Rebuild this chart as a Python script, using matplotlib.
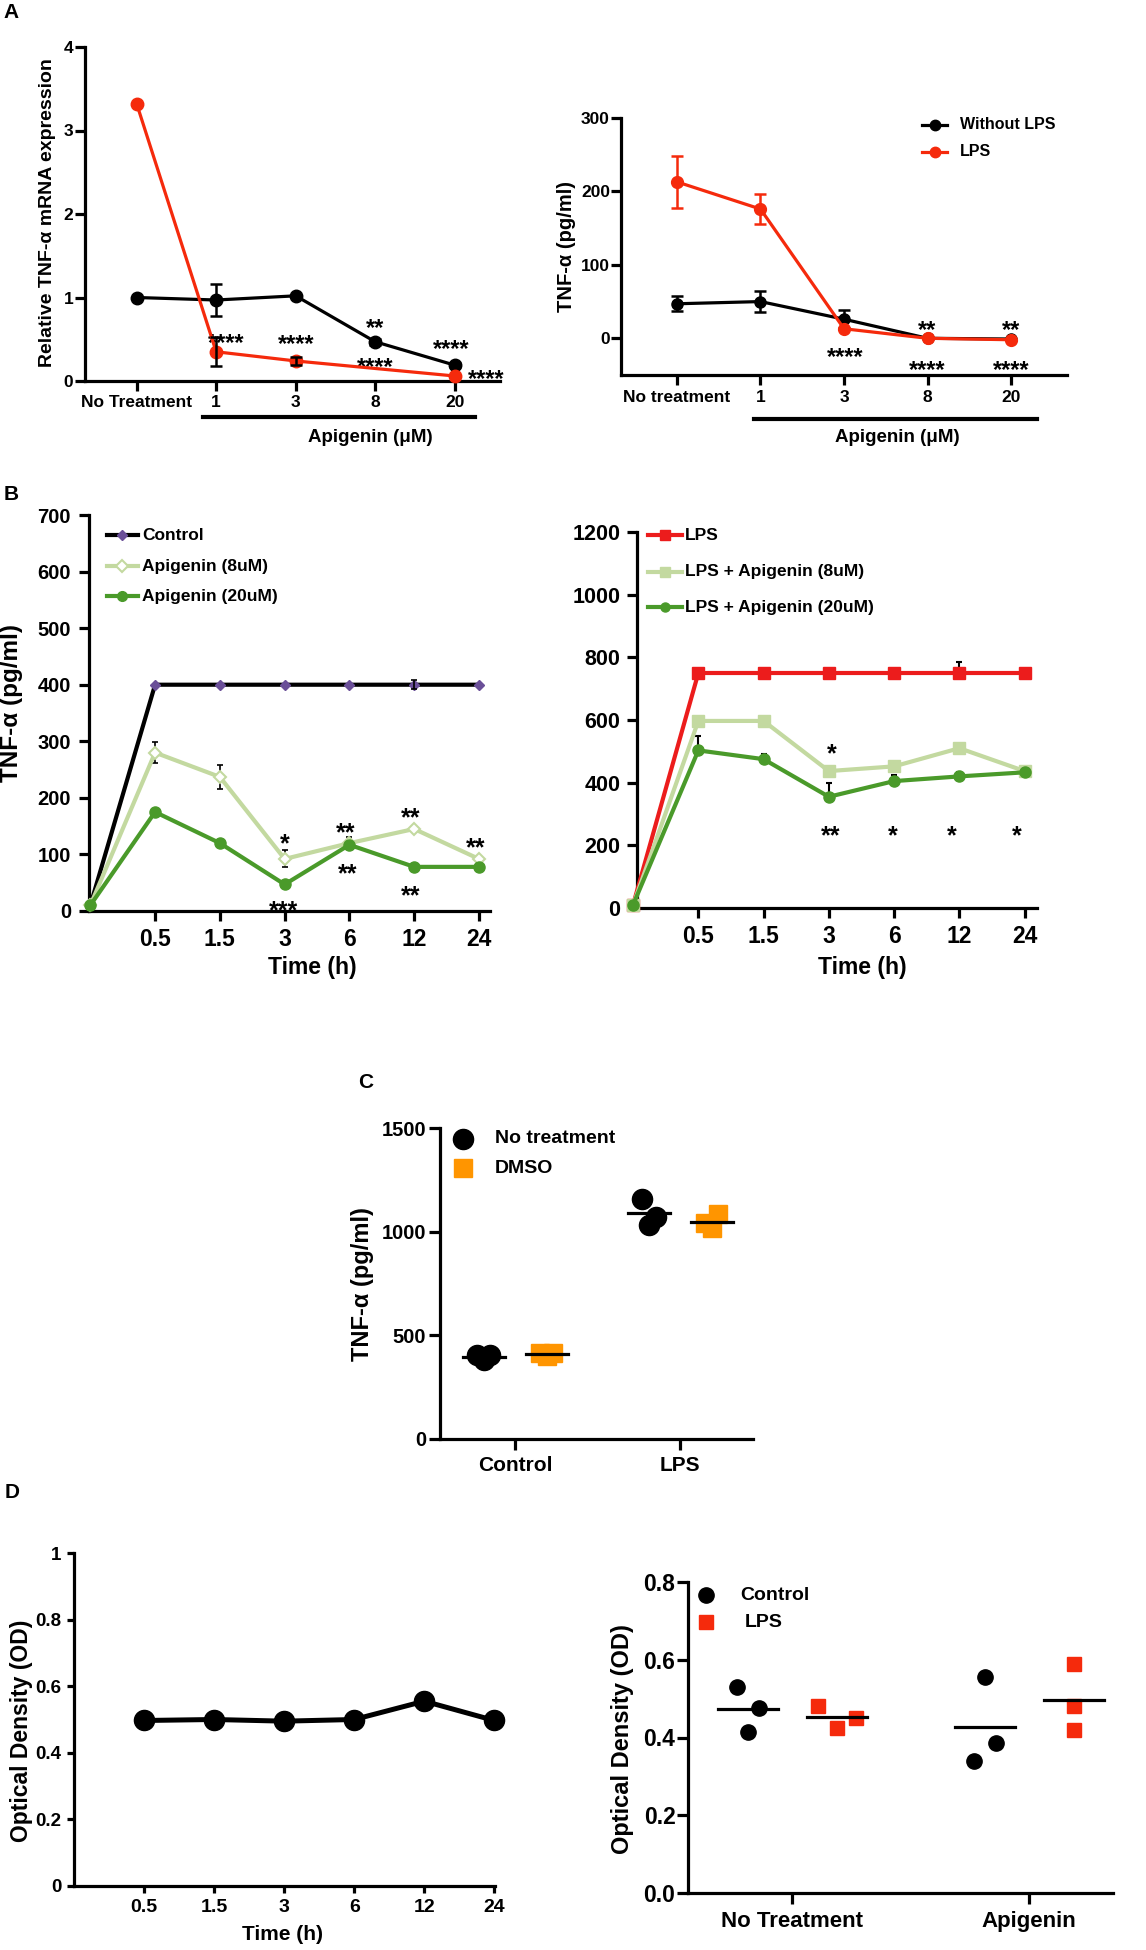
import matplotlib

matplotlib.use("Agg")
import matplotlib.pyplot as plt
import numpy as np
from matplotlib import font_manager

W, H = 1146, 1950

# ---------------- data ----------------
# Panel A: apigenin dose response
a_doses = ["No Treatment", "1", "3", "8", "20"]
a_doses_right = ["No treatment", "1", "3", "8", "20"]
a_mrna_nolps = [1.0, 0.97, 1.02, 0.47, 0.19]
a_mrna_nolps_err = [0.0, 0.195, 0.0, 0.035, 0.02]
a_mrna_lps = [3.32, 0.35, 0.24, 0.15, 0.06]
a_mrna_lps_err = [0.0, 0.175, 0.05, 0.0, 0.0]
a_mrna_stars = [("****", 1.13, 0.53), ("****", 2.01, 0.52), ("**", 3.0, 0.72),
                ("****", 3.0, 0.25), ("****", 3.95, 0.46), ("****", 4.39, 0.10)]
a_prot_nolps = [47, 50, 26, 0, -1]
a_prot_nolps_err = [10, 14, 12, 0, 0]
a_prot_lps = [213, 176, 13, 0, -2]
a_prot_lps_err = [35, 21, 0, 0, 0]
a_prot_stars = [("****", 2.01, -16), ("**", 3.0, 20), ("****", 3.0, -34),
                ("**", 4.0, 20), ("****", 4.0, -34)]

# Panel B: time course (first point is time 0)
b_times = ["0.5", "1.5", "3", "6", "12", "24"]
b_ctrl = [10, 400, 400, 400, 400, 400, 400]
b_ctrl_err = [0, 0, 0, 0, 0, 8, 0]
b_api8 = [10, 280, 237, 92, 120, 145, 92]
b_api8_err = [0, 18, 21, 15, 10, 0, 0]
b_api20 = [10, 175, 120, 47, 117, 78, 78]
b_left_stars = [("*", 3.0, 131), ("***", 2.98, 12), ("**", 3.94, 150),
                ("**", 3.97, 78), ("**", 4.94, 177), ("**", 4.94, 39),
                ("**", 5.95, 124)]
b_lps = [10, 750, 750, 750, 750, 750, 750]
b_lps_err = [0, 0, 0, 0, 0, 35, 0]
b_lps_api8 = [10, 597, 597, 437, 452, 510, 437]
b_lps_api20 = [10, 503, 475, 355, 405, 420, 433]
b_lps_api20_err = [0, 47, 15, 43, 18, 15, 0]
b_right_stars = [("*", 3.05, 513), ("**", 3.02, 252), ("*", 3.98, 252),
                 ("*", 4.89, 252), ("*", 5.88, 252)]

# Panel C: vehicle control
c_groups = ["Control", "LPS"]
c_notreat = [[405, 405, 380], [1157, 1073, 1033]]
c_dmso = [[413, 413, 400], [1086, 1041, 1017]]

# Panel D: viability
d_times = ["0.5", "1.5", "3", "6", "12", "24"]
d_od = [0.497, 0.50, 0.495, 0.50, 0.555, 0.497]
d_groups = ["No Treatment", "Apigenin"]
d_ctrl = [[0.53, 0.475, 0.415], [0.555, 0.385, 0.34]]
d_lps = [[0.48, 0.425, 0.45], [0.59, 0.48, 0.42]]

RED = "#f52a0c"
BRED = "#ec1c1c"
LIGHT = "#c3d9a0"
GREEN = "#4a9a2a"
PURPLE = "#6a4f98"
ORANGE = "#ff9500"

plt.rcParams["font.family"] = ["Liberation Sans", "DejaVu Sans"]
plt.rcParams["font.weight"] = "bold"
plt.rcParams["axes.labelweight"] = "bold"

HAS_NARROW = any(f.name == "Liberation Sans Narrow"
                 for f in font_manager.fontManager.ttflist)

fig = plt.figure(figsize=(W / 100, H / 100), dpi=100)


def add_axes(x0, x1, ytop, ybot):
    return fig.add_axes([x0 / W, 1 - ybot / H, (x1 - x0) / W, (ybot - ytop) / H])


def ftext(x, y, s, size, **kw):
    kw.setdefault("ha", "center")
    kw.setdefault("va", "center")
    fig.text(x / W, 1 - y / H, s, fontsize=size, fontweight="bold", **kw)


def style(ax, xsize, ysize, xpad=3, ypad=2, tlen=7, lw=2.3):
    for s in ("top", "right"):
        ax.spines[s].set_visible(False)
    for s in ("left", "bottom"):
        ax.spines[s].set_linewidth(lw)
    ax.tick_params(width=lw, length=tlen)
    ax.tick_params(axis="x", labelsize=xsize, pad=xpad)
    ax.tick_params(axis="y", labelsize=ysize, pad=ypad)
    ax.patch.set_alpha(0)


def errbars(ax, x, y, err, color, lw=1.8, cap=4.5, upper_only=False, z=2):
    x, y, err = np.asarray(x, float), np.asarray(y, float), np.asarray(err, float)
    m = err > 0
    lower = np.zeros(m.sum()) if upper_only else err[m]
    ax.errorbar(x[m], y[m], yerr=[lower, err[m]], fmt="none", ecolor=color,
                elinewidth=lw, capsize=cap, capthick=lw, zorder=z)


def stars(ax, marks, size):
    for s, x, y in marks:
        ax.annotate(s, (x, y), xytext=(0, -0.58 * size), textcoords="offset points",
                    ha="center", va="baseline", fontsize=size, fontweight="bold",
                    annotation_clip=False)


def legend_line(ax, x0, x1, y, tx, label, size, **kw):
    ax.plot([x0, (x0 + x1) / 2, x1], [y] * 3, transform=ax.transAxes,
            markevery=[1], clip_on=False, **kw)
    ax.text(tx, y, label, transform=ax.transAxes, va="center", fontsize=size)


def legend_marker(ax, x, y, tx, label, size, **kw):
    ax.plot([x], [y], transform=ax.transAxes, clip_on=False, ls="none", **kw)
    ax.text(tx, y, label, transform=ax.transAxes, va="center", fontsize=size)


# ---------------- A left ----------------
ax = add_axes(85, 500, 47, 381)
x = np.arange(len(a_doses))
ax.plot(x, a_mrna_nolps, color="k", lw=2.3, marker="o", ms=9, zorder=3, clip_on=False)
errbars(ax, x, a_mrna_nolps, a_mrna_nolps_err, "k", z=3.5)
ax.plot(x, a_mrna_lps, color=RED, lw=2.3, marker="o", ms=9, markevery=[0, 1, 2, 4],
        zorder=4, clip_on=False)
errbars(ax, x, a_mrna_lps, a_mrna_lps_err, "k", z=4.5)
ax.set_xlim(-0.65, 4.57)
ax.set_ylim(0, 4)
ax.set_yticks(range(5))
ax.set_xticks(x, a_doses)
style(ax, 12.5, 12.5, xpad=3, ypad=1.5)
stars(ax, a_mrna_stars, 17)
ax.plot([0.83, 4.25], [-0.108, -0.108], transform=ax.get_xaxis_transform(),
        color="k", lw=3, clip_on=False)
ftext(48, 213, "Relative TNF-α mRNA expression", 14, rotation=90)
ftext(370, 437, "Apigenin (μM)", 13.5)

# ---------------- A right ----------------
ax = add_axes(621, 1067, 118, 375)
ax.plot(x, a_prot_nolps, color="k", lw=2.3, marker="o", ms=8, zorder=3, clip_on=False)
errbars(ax, x, a_prot_nolps, a_prot_nolps_err, "k", z=3)
ax.plot(x, a_prot_lps, color=RED, lw=2.3, marker="o", ms=8.5, zorder=4, clip_on=False)
errbars(ax, x, a_prot_lps, a_prot_lps_err, RED, z=4)
ax.set_xlim(-0.67, 4.67)
ax.set_ylim(-50, 300)
ax.set_yticks([0, 100, 200, 300])
ax.set_xticks(x, a_doses_right)
style(ax, 12.5, 12.5, xpad=3.5, ypad=1)
stars(ax, a_prot_stars, 17)
ax.plot([0.92, 4.31], [-0.171, -0.171], transform=ax.get_xaxis_transform(),
        color="k", lw=3, clip_on=False)
legend_line(ax, 0.675, 0.731, 0.973, 0.760, "Without LPS", 11.5, color="k", lw=2.3,
            marker="o", ms=7.5)
legend_line(ax, 0.675, 0.731, 0.868, 0.760, "LPS", 11.5, color=RED, lw=2.3,
            marker="o", ms=7.5)
ftext(567, 246, "TNF-α (pg/ml)", 14.5, rotation=90)
ftext(897, 438, "Apigenin (μM)", 13.5)

# ---------------- B left ----------------
ax = add_axes(89, 490, 515, 911)
t = np.arange(len(b_ctrl))
ax.plot(t, b_ctrl, color="k", lw=3, marker="D", ms=5.5, mfc=PURPLE, mec=PURPLE,
        zorder=3, clip_on=False)
errbars(ax, t, b_ctrl, b_ctrl_err, "k", lw=1.2, cap=2.5, z=3.5)
ax.plot(t, b_api8, color=LIGHT, lw=3, marker="D", ms=6, mfc="white", mec=LIGHT,
        mew=1.5, zorder=3, clip_on=False)
errbars(ax, t, b_api8, b_api8_err, "k", lw=1.2, cap=2.5, z=2.5)
ax.plot(t, b_api20, color=GREEN, lw=3, marker="o", ms=8, zorder=4, clip_on=False)
ax.set_xlim(-0.02, 6.17)
ax.set_ylim(0, 700)
ax.set_yticks(range(0, 701, 100))
ax.set_xticks(t[1:], b_times)
style(ax, 16.5, 14.5, xpad=5, ypad=6)
stars(ax, b_left_stars, 18)
legend_line(ax, 0.045, 0.122, 0.949, 0.132, "Control", 12.5, color="k", lw=3,
            marker="D", ms=5.5, mfc=PURPLE, mec=PURPLE)
legend_line(ax, 0.045, 0.122, 0.871, 0.132, "Apigenin (8uM)", 12.5, color=LIGHT, lw=3,
            marker="D", ms=6, mfc="white", mec=LIGHT, mew=1.5)
legend_line(ax, 0.045, 0.122, 0.795, 0.132, "Apigenin (20uM)", 12.5, color=GREEN, lw=3,
            marker="o", ms=7)
ftext(12, 703, "TNF-α (pg/ml)", 17.5, rotation=90)
ftext(312, 967, "Time (h)", 16.5)

# ---------------- B right ----------------
ax = add_axes(637, 1037, 532, 908)
ax.plot(t, b_lps, color=BRED, lw=3, marker="s", ms=8, zorder=3, clip_on=False)
errbars(ax, t, b_lps, b_lps_err, "k", lw=1.5, cap=2.5, upper_only=True, z=2.5)
ax.plot(t, b_lps_api8, color=LIGHT, lw=3, marker="s", ms=8, zorder=3, clip_on=False)
ax.plot(t, b_lps_api20, color=GREEN, lw=3, marker="o", ms=8, zorder=4, clip_on=False)
errbars(ax, t, b_lps_api20, b_lps_api20_err, "k", lw=1.5, cap=2.5, upper_only=True, z=2.5)
ax.set_xlim(0.06, 6.19)
ax.set_ylim(0, 1200)
ax.set_yticks(range(0, 1201, 200))
ax.set_xticks(t[1:], b_times)
style(ax, 16.5, 15.5, xpad=5, ypad=5)
stars(ax, b_right_stars, 18)
legend_line(ax, 0.0275, 0.1125, 0.992, 0.12, "LPS", 12.5, color=BRED, lw=3,
            marker="s", ms=7)
legend_line(ax, 0.0275, 0.1125, 0.894, 0.12, "LPS + Apigenin (8uM)", 12.5, color=LIGHT,
            lw=3, marker="s", ms=7)
legend_line(ax, 0.0275, 0.1125, 0.800, 0.12, "LPS + Apigenin (20uM)", 12.5, color=GREEN,
            lw=3, marker="o", ms=6.5)
ftext(862, 967, "Time (h)", 16.5)

# ---------------- C ----------------
ax = add_axes(440, 753, 1128, 1439)
g = np.arange(1, len(c_groups) + 1)
jit = np.array([-0.04, 0.04, 0.0])
for i, gx in enumerate(g):
    ax.plot(gx - 0.19 + jit, c_notreat[i], ls="none", marker="o", ms=14.5, color="k",
            zorder=3)
    ax.plot(gx + 0.19 - jit, c_dmso[i], ls="none", marker="s", ms=12.5, color=ORANGE,
            zorder=3)
    ax.plot([gx - 0.19 - 0.127, gx - 0.19 + 0.127], [np.mean(c_notreat[i])] * 2,
            color="k", lw=2.3, zorder=4)
    ax.plot([gx + 0.19 - 0.127, gx + 0.19 + 0.127], [np.mean(c_dmso[i])] * 2,
            color="k", lw=2.3, zorder=4)
ax.set_xlim(0.545, 2.44)
ax.set_ylim(0, 1500)
ax.set_yticks([0, 500, 1000, 1500])
ax.set_xticks(g, c_groups)
if HAS_NARROW:
    style(ax, 18, 17.5, xpad=4, ypad=2, tlen=8)
    for lab in ax.get_xticklabels() + ax.get_yticklabels():
        lab.set_fontfamily("Liberation Sans Narrow")
else:
    style(ax, 15, 14.5, xpad=4, ypad=2, tlen=8)
legend_marker(ax, 0.073, 0.965, 0.176, "No treatment", 14, marker="o", ms=14.5, color="k")
legend_marker(ax, 0.073, 0.871, 0.176, "DMSO", 14, marker="s", ms=12.5, color=ORANGE)
ftext(363, 1284, "TNF-α (pg/ml)", 17, rotation=90)

# ---------------- D left ----------------
ax = add_axes(74, 495, 1553, 1886)
xd = np.arange(1, len(d_times) + 1)
ax.plot(xd, d_od, color="k", lw=3.6, marker="o", ms=14.5, zorder=3, clip_on=False)
ax.set_xlim(0, 6.01)
ax.set_ylim(0, 1)
ax.set_yticks([0, 0.2, 0.4, 0.6, 0.8, 1.0], ["0", "0.2", "0.4", "0.6", "0.8", "1"])
ax.set_xticks(xd, d_times)
style(ax, 14, 13.5, xpad=4, ypad=4, tlen=5)
ftext(22, 1731, "Optical Density (OD)", 16.5, rotation=90)
ftext(282, 1935, "Time (h)", 15)

# ---------------- D right ----------------
ax = add_axes(688, 1113, 1582, 1893)
gd = np.arange(1, len(d_groups) + 1)
jit_ctrl = [[-0.046, 0.047, 0.0], [0.0, 0.047, -0.046]]
jit_lps = [[-0.08, 0.0, 0.08], [0.0, 0.0, 0.0]]
for i, gx in enumerate(gd):
    ax.plot(gx - 0.186 + np.array(jit_ctrl[i]), d_ctrl[i], ls="none", marker="o",
            ms=11, color="k", zorder=3)
    ax.plot(gx + 0.19 + np.array(jit_lps[i]), d_lps[i], ls="none", marker="s",
            ms=10, color=RED, zorder=3)
    ax.plot([gx - 0.186 - 0.125, gx - 0.186 + 0.125], [np.mean(d_ctrl[i])] * 2,
            color="k", lw=2.3, zorder=4)
    ax.plot([gx + 0.19 - 0.125, gx + 0.19 + 0.125], [np.mean(d_lps[i])] * 2,
            color="k", lw=2.3, zorder=4)
ax.set_xlim(0.561, 2.354)
ax.set_ylim(0, 0.8)
ax.set_yticks([0, 0.2, 0.4, 0.6, 0.8], ["0.0", "0.2", "0.4", "0.6", "0.8"])
ax.set_xticks(gd, d_groups)
style(ax, 16, 16.5, xpad=5, ypad=1, tlen=8)
legend_marker(ax, 0.042, 0.958, 0.122, "Control", 14, marker="o", ms=11, color="k")
legend_marker(ax, 0.042, 0.871, 0.134, "LPS", 14, marker="s", ms=10, color=RED)
ftext(623, 1739, "Optical Density (OD)", 17, rotation=90)

# panel letters
ftext(11, 13, "A", 15)
ftext(11, 495, "B", 15)
ftext(366, 1083, "C", 15)
ftext(12, 1493, "D", 15)

fig.savefig("out.png", dpi=100)
